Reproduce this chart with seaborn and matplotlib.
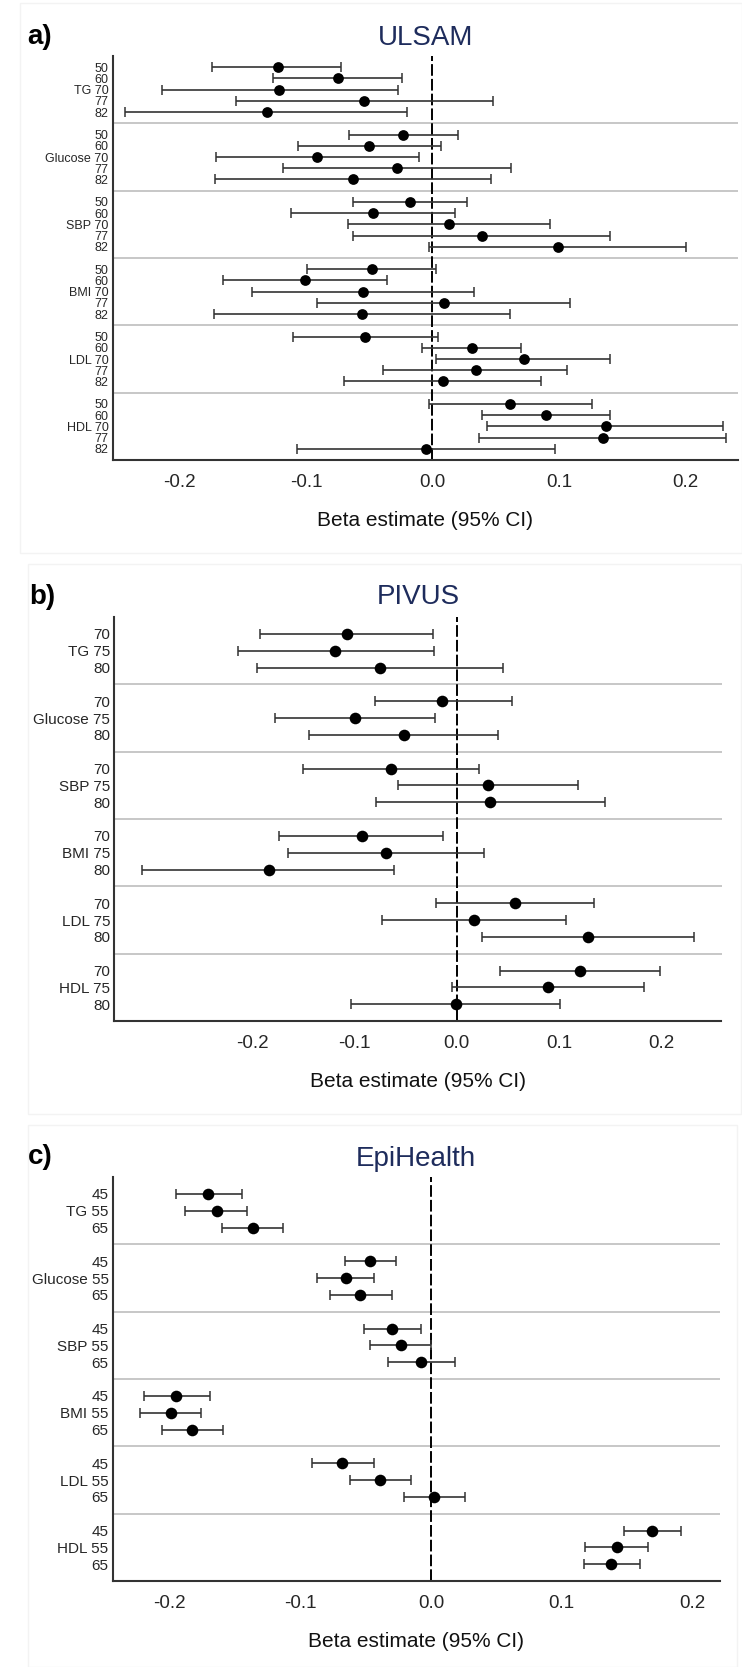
import numpy as np
import pandas as pd
import seaborn as sns
import matplotlib
matplotlib.use("Agg")
import matplotlib.pyplot as plt
import matplotlib.font_manager as fm
from matplotlib.patches import Rectangle

# ---------------- data ----------------
variables = ["TG", "Glucose", "SBP", "BMI", "LDL", "HDL"]

ulsam_ages = [50, 60, 70, 77, 82]
ulsam_est = [-0.122, -0.075, -0.121, -0.054, -0.131,
             -0.023, -0.050, -0.091, -0.028, -0.063,
             -0.018, -0.047, 0.013, 0.039, 0.099,
             -0.048, -0.101, -0.055, 0.009, -0.056,
             -0.053, 0.031, 0.072, 0.034, 0.008,
             0.061, 0.090, 0.137, 0.135, -0.005]
ulsam_lo = [-0.174, -0.126, -0.214, -0.155, -0.243,
            -0.066, -0.106, -0.171, -0.118, -0.172,
            -0.063, -0.112, -0.067, -0.063, -0.003,
            -0.099, -0.166, -0.143, -0.091, -0.173,
            -0.110, -0.008, 0.003, -0.039, -0.070,
            -0.003, 0.039, 0.043, 0.037, -0.107]
ulsam_hi = [-0.072, -0.024, -0.027, 0.048, -0.020,
            0.020, 0.007, -0.011, 0.062, 0.046,
            0.027, 0.018, 0.093, 0.140, 0.200,
            0.003, -0.036, 0.033, 0.109, 0.061,
            0.004, 0.070, 0.140, 0.106, 0.086,
            0.126, 0.140, 0.230, 0.232, 0.097]

pivus_ages = [70, 75, 80]
pivus_est = [-0.107, -0.119, -0.075,
             -0.014, -0.099, -0.052,
             -0.064, 0.031, 0.033,
             -0.093, -0.069, -0.184,
             0.057, 0.017, 0.128,
             0.121, 0.089, -0.001]
pivus_lo = [-0.192, -0.214, -0.195,
            -0.080, -0.178, -0.144,
            -0.150, -0.057, -0.079,
            -0.174, -0.165, -0.308,
            -0.020, -0.073, 0.025,
            0.042, -0.005, -0.103]
pivus_hi = [-0.023, -0.022, 0.045,
            0.054, -0.021, 0.040,
            0.022, 0.119, 0.145,
            -0.013, 0.027, -0.061,
            0.134, 0.107, 0.232,
            0.199, 0.183, 0.101]

epi_ages = [45, 55, 65]
epi_est = [-0.171, -0.164, -0.136,
           -0.047, -0.065, -0.054,
           -0.030, -0.023, -0.008,
           -0.195, -0.199, -0.183,
           -0.068, -0.039, 0.002,
           0.169, 0.142, 0.138]
epi_lo = [-0.195, -0.188, -0.160,
          -0.066, -0.087, -0.077,
          -0.051, -0.047, -0.033,
          -0.220, -0.223, -0.206,
          -0.091, -0.062, -0.021,
          0.148, 0.118, 0.117]
epi_hi = [-0.145, -0.141, -0.113,
          -0.027, -0.044, -0.030,
          -0.008, 0.000, 0.018,
          -0.169, -0.176, -0.159,
          -0.044, -0.015, 0.026,
          0.191, 0.166, 0.160]

xtick_vals = [-0.2, -0.1, 0.0, 0.1, 0.2]
xtick_labels = ["-0.2", "-0.1", "0.0", "0.1", "0.2"]

# ---------------- style ----------------
sns.set_style("white")
names = {f.name for f in fm.fontManager.ttflist}
narrow = "Liberation Sans Narrow" if "Liberation Sans Narrow" in names else "Liberation Sans"
plt.rcParams["font.family"] = [narrow, "DejaVu Sans"]

W, H = 742, 1667
fig = plt.figure(figsize=(W / 100, H / 100), dpi=100)
fig.patch.set_facecolor("white")


def fx(px):
    return px / W


def fy(py):
    return 1 - py / H


# faint panel frames
for (x0, y0, x1, y1) in [(20, 3, 742, 553), (28, 564, 741, 1114), (28, 1125, 737, 1667)]:
    fig.add_artist(Rectangle((fx(x0), fy(y1)), fx(x1 - x0), (y1 - y0) / H,
                             transform=fig.transFigure, facecolor="none",
                             edgecolor="#f3f3f3", lw=1.0, zorder=0))

navy = "#1e2c5c"


def panel(rect_px, ages, est, lo, hi, xlim, title, letter, title_y, letter_xy,
          ylab_size, msize):
    left, top, right, bottom = rect_px
    ax = fig.add_axes([fx(left), fy(bottom), fx(right - left), (bottom - top) / H])
    n = len(ages)
    step = n + 1
    rows = []
    for g, v in enumerate(variables):
        for i, a in enumerate(ages):
            lab = f"{v} {a}" if i == n // 2 else f"{a}"
            rows.append((g * step + i + 1, lab))
    df = pd.DataFrame({
        "pos": [r[0] for r in rows],
        "label": [r[1] for r in rows],
        "est": est, "lo": lo, "hi": hi,
    })
    # reference line
    ax.axvline(0, color="black", lw=1.4, dashes=(6, 1.6), zorder=1)
    # group separators
    for g in range(1, len(variables)):
        ax.axhline(g * step, color="#b8b8b8", lw=1.1, zorder=0.5)
    ax.errorbar(df["est"], df["pos"],
                xerr=[df["est"] - df["lo"], df["hi"] - df["est"]],
                fmt="none", ecolor="#333333", elinewidth=1.2, capsize=3.8,
                capthick=1.1, zorder=2)
    sns.scatterplot(data=df, x="est", y="pos", color="black", s=msize,
                    edgecolor="black", linewidth=0, zorder=3, ax=ax, legend=False)
    ax.set_ylim(len(variables) * step, 0)
    ax.set_xlim(*xlim)
    ax.set_yticks(df["pos"])
    ax.set_yticklabels(df["label"], fontsize=ylab_size)
    ax.set_xticks(xtick_vals)
    ax.set_xticklabels(xtick_labels, fontsize=13.5)
    ax.tick_params(axis="y", length=0, pad=3)
    ax.tick_params(axis="x", length=0, pad=10)
    for s in ["top", "right"]:
        ax.spines[s].set_visible(False)
    for s in ["left", "bottom"]:
        ax.spines[s].set_color("#333333")
        ax.spines[s].set_linewidth(1.5)
    ax.set_ylabel("")
    ax.set_xlabel("Beta estimate (95% CI)", fontsize=15, color="#111111")
    ax.xaxis.label.set_va("center")
    ax.xaxis.set_label_coords(0.5, -60 / (bottom - top))
    ax.grid(False)
    fig.text(fx((left + right) / 2), fy(title_y), title, ha="center", va="center",
             fontsize=20, color=navy)
    fig.text(fx(letter_xy[0]), fy(letter_xy[1]), letter, ha="center", va="center",
             fontsize=20, fontweight="bold", color="black")
    return ax


panel((112.7, 56, 738, 460), ulsam_ages, ulsam_est, ulsam_lo, ulsam_hi,
      (-0.2528, 0.2415), "ULSAM", "a)", 38, (40, 37), 9, 60)
panel((114.2, 617, 721.5, 1021), pivus_ages, pivus_est, pivus_lo, pivus_hi,
      (-0.335, 0.259), "PIVUS", "b)", 597, (42, 597), 11, 70)
panel((112.7, 1177, 719.7, 1581), epi_ages, epi_est, epi_lo, epi_hi,
      (-0.2437, 0.221), "EpiHealth", "c)", 1159, (40, 1157), 11, 70)

fig.savefig("out.png", dpi=100, facecolor="white")
